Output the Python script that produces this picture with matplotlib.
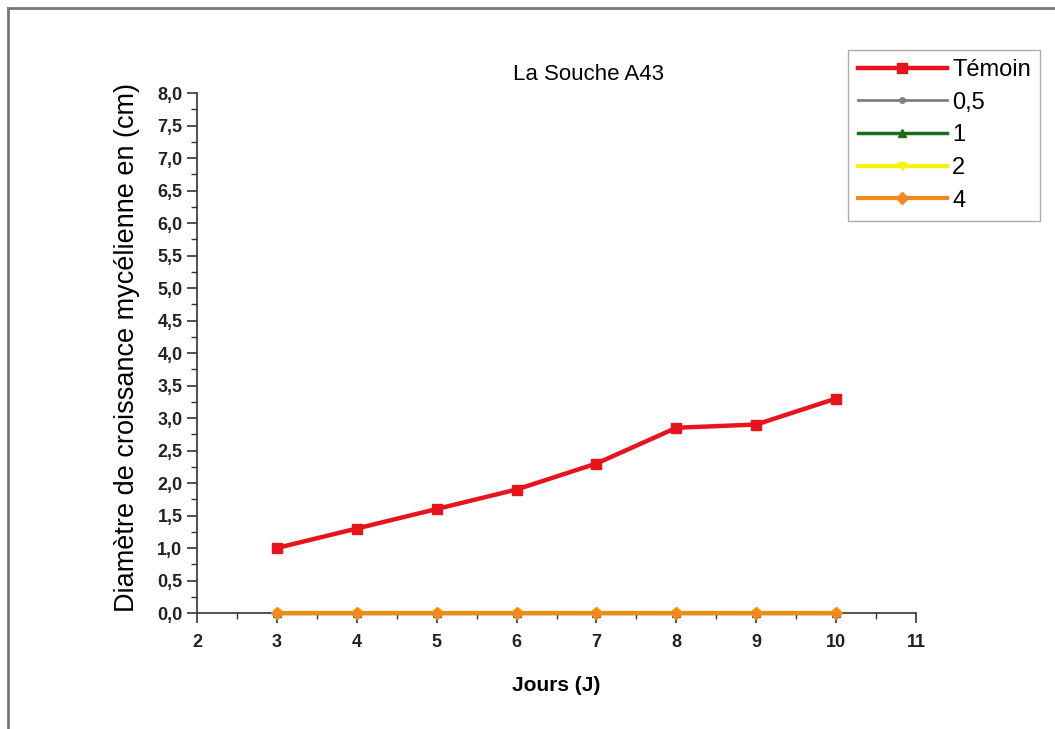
import matplotlib.pyplot as plt
from matplotlib.lines import Line2D
from matplotlib.ticker import MultipleLocator, FuncFormatter

plt.rcParams['font.family'] = ['Liberation Sans', 'DejaVu Sans']

# Jours de mesure et diamètres (cm) pour chaque concentration
jours = [3, 4, 5, 6, 7, 8, 9, 10]
temoin = [1.0, 1.3, 1.6, 1.9, 2.3, 2.85, 2.9, 3.3]
c05 = [0, 0, 0, 0, 0, 0, 0, 0]
c1 = [0, 0, 0, 0, 0, 0, 0, 0]
c2 = [0, 0, 0, 0, 0, 0, 0, 0]
c4 = [0, 0, 0, 0, 0, 0, 0, 0]

fig = plt.figure(figsize=(10.55, 7.29), dpi=100)
ax = fig.add_axes([0.1867, 0.1591, 0.6816, 0.7133])

ax.plot(jours, temoin, color='#e8141c', lw=3.2, marker='s', ms=7, label='Témoin', zorder=5)
ax.plot(jours, c05, color='#808080', lw=2, marker='o', ms=4, label='0,5', clip_on=False, zorder=3)
ax.plot(jours, c1, color='#1a6e1a', lw=2.5, marker='^', ms=6, label='1', clip_on=False, zorder=3)
ax.plot(jours, c2, color='#f5f50a', lw=3, marker='v', ms=6, label='2', clip_on=False, zorder=3)
ax.plot(jours, c4, color='#f08a1c', lw=3, marker='D', ms=6, label='4', clip_on=False, zorder=4)

ax.set_xlim(2, 11)
ax.set_ylim(0, 8)
ax.xaxis.set_major_locator(MultipleLocator(1))
ax.xaxis.set_minor_locator(MultipleLocator(0.5))
ax.yaxis.set_major_locator(MultipleLocator(0.5))
ax.yaxis.set_minor_locator(MultipleLocator(0.25))
ax.yaxis.set_major_formatter(FuncFormatter(lambda v, p: f'{v:.1f}'.replace('.', ',')))

for s in ['top', 'right']:
    ax.spines[s].set_visible(False)
for s in ['left', 'bottom']:
    ax.spines[s].set_color('#333333')
    ax.spines[s].set_linewidth(1.2)

ax.tick_params(which='major', direction='out', length=7, width=1.2, colors='#333333',
               labelsize=13, labelcolor='#222222')
ax.tick_params(axis='x', which='major', pad=8)
ax.tick_params(which='minor', direction='out', length=4, width=1, colors='#333333')
for lab in ax.get_xticklabels() + ax.get_yticklabels():
    lab.set_fontweight('bold')

ax.set_xlabel('Jours (J)', fontsize=15, fontweight='bold', labelpad=18)
ax.set_ylabel('Diamètre de croissance mycélienne en (cm)', fontsize=19.5)
ax.yaxis.set_label_coords(-0.079, 0.51)
ax.text(0.545, 1.035, 'La Souche A43', transform=ax.transAxes, fontsize=16,
        ha='center', va='center')

leg = fig.legend(loc='upper right', bbox_to_anchor=(0.986, 0.932), fontsize=17,
                 handlelength=3.8, frameon=True, fancybox=False, borderpad=0.4,
                 labelspacing=0.45, handletextpad=0.2, borderaxespad=0)
leg.get_frame().set_edgecolor('#999999')
leg.get_frame().set_linewidth(1)

# cadre extérieur
fig.add_artist(Line2D([0.008, 1.0], [0.989, 0.989], color='#777777', lw=2))
fig.add_artist(Line2D([0.008, 0.008], [0.0, 0.989], color='#777777', lw=2))

fig.savefig('out.png', dpi=100)
